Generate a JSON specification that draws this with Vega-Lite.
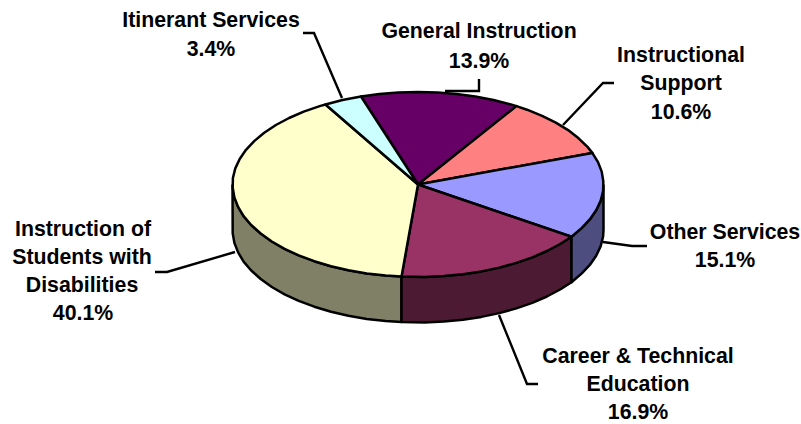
{"$schema":"https://vega.github.io/schema/vega-lite/v6.json","width":801,"height":424,"padding":0,"autosize":{"type":"fit","contains":"padding"},"background":"white","view":{"stroke":null},
"datasets":{
"walls":[
{"k":"Disabilities side","x":232.5,"y":184.5},{"k":"Disabilities side","x":232.7,"y":187.7},{"k":"Disabilities side","x":234.4,"y":197.4},{"k":"Disabilities side","x":238.1,"y":206.9},{"k":"Disabilities side","x":243.6,"y":216.1},{"k":"Disabilities side","x":251.2,"y":225},{"k":"Disabilities side","x":260.7,"y":233.5},{"k":"Disabilities side","x":271.8,"y":241.5},{"k":"Disabilities side","x":284.6,"y":248.8},{"k":"Disabilities side","x":298.7,"y":255.4},{"k":"Disabilities side","x":314.3,"y":261.2},{"k":"Disabilities side","x":331,"y":266.2},{"k":"Disabilities side","x":348.4,"y":270.2},{"k":"Disabilities side","x":366.8,"y":273.4},{"k":"Disabilities side","x":385.7,"y":275.6},{"k":"Disabilities side","x":401.5,"y":276.6},{"k":"Disabilities side","x":401.5,"y":322.1},{"k":"Disabilities side","x":385.7,"y":321.1},{"k":"Disabilities side","x":366.8,"y":318.9},{"k":"Disabilities side","x":348.4,"y":315.7},{"k":"Disabilities side","x":331,"y":311.7},{"k":"Disabilities side","x":314.3,"y":306.7},{"k":"Disabilities side","x":298.7,"y":300.9},{"k":"Disabilities side","x":284.6,"y":294.3},{"k":"Disabilities side","x":271.8,"y":287},{"k":"Disabilities side","x":260.7,"y":279},{"k":"Disabilities side","x":251.2,"y":270.5},{"k":"Disabilities side","x":243.6,"y":261.6},{"k":"Disabilities side","x":238.1,"y":252.4},{"k":"Disabilities side","x":234.4,"y":242.9},{"k":"Disabilities side","x":232.7,"y":233.2},{"k":"Disabilities side","x":232.5,"y":184.5},
{"k":"Career side","x":571.5,"y":236.8},{"k":"Career side","x":560.1,"y":244},{"k":"Career side","x":546.9,"y":251},{"k":"Career side","x":532.3,"y":257.4},{"k":"Career side","x":516.3,"y":262.9},{"k":"Career side","x":499.3,"y":267.6},{"k":"Career side","x":481.4,"y":271.4},{"k":"Career side","x":462.9,"y":274.2},{"k":"Career side","x":443.8,"y":276.1},{"k":"Career side","x":424.5,"y":276.9},{"k":"Career side","x":401.5,"y":276.6},{"k":"Career side","x":401.5,"y":322.1},{"k":"Career side","x":424.5,"y":322.4},{"k":"Career side","x":443.8,"y":321.6},{"k":"Career side","x":462.9,"y":319.7},{"k":"Career side","x":481.4,"y":316.9},{"k":"Career side","x":499.3,"y":313.1},{"k":"Career side","x":516.3,"y":308.4},{"k":"Career side","x":532.3,"y":302.9},{"k":"Career side","x":546.9,"y":296.5},{"k":"Career side","x":560.1,"y":289.5},{"k":"Career side","x":571.5,"y":282.3},{"k":"Career side","x":571.5,"y":236.8},
{"k":"Other side","x":603.5,"y":184.5},{"k":"Other side","x":603.1,"y":191},{"k":"Other side","x":600.7,"y":200.6},{"k":"Other side","x":596.3,"y":210},{"k":"Other side","x":590,"y":219.2},{"k":"Other side","x":581.8,"y":227.9},{"k":"Other side","x":571.5,"y":236.8},{"k":"Other side","x":571.5,"y":282.3},{"k":"Other side","x":581.8,"y":273.4},{"k":"Other side","x":590,"y":264.7},{"k":"Other side","x":596.3,"y":255.5},{"k":"Other side","x":600.7,"y":246.1},{"k":"Other side","x":603.1,"y":236.5},{"k":"Other side","x":603.5,"y":230},{"k":"Other side","x":603.5,"y":184.5}
],
"tops":[
{"k":"General Instruction","x":418,"y":184.5},{"k":"General Instruction","x":361,"y":96.5},{"k":"General Instruction","x":379.4,"y":94},{"k":"General Instruction","x":398.6,"y":92.5},{"k":"General Instruction","x":418,"y":92},{"k":"General Instruction","x":437.4,"y":92.5},{"k":"General Instruction","x":456.6,"y":94},{"k":"General Instruction","x":475.3,"y":96.5},{"k":"General Instruction","x":493.5,"y":100},{"k":"General Instruction","x":510.8,"y":104.4},{"k":"General Instruction","x":516.5,"y":106.1},{"k":"General Instruction","x":418,"y":184.5},
{"k":"Instructional Support","x":418,"y":184.5},{"k":"Instructional Support","x":516.5,"y":106.1},{"k":"Instructional Support","x":527,"y":109.7},{"k":"Instructional Support","x":542.1,"y":115.8},{"k":"Instructional Support","x":555.8,"y":122.6},{"k":"Instructional Support","x":568.1,"y":130.1},{"k":"Instructional Support","x":578.6,"y":138.3},{"k":"Instructional Support","x":587.5,"y":146.9},{"k":"Instructional Support","x":592.3,"y":152.9},{"k":"Instructional Support","x":418,"y":184.5},
{"k":"Other Services","x":418,"y":184.5},{"k":"Other Services","x":592.3,"y":152.9},{"k":"Other Services","x":598,"y":162.1},{"k":"Other Services","x":601.7,"y":171.6},{"k":"Other Services","x":603.3,"y":181.3},{"k":"Other Services","x":603.1,"y":191},{"k":"Other Services","x":600.7,"y":200.6},{"k":"Other Services","x":596.3,"y":210},{"k":"Other Services","x":590,"y":219.2},{"k":"Other Services","x":581.8,"y":227.9},{"k":"Other Services","x":571.5,"y":236.8},{"k":"Other Services","x":418,"y":184.5},
{"k":"Career & Technical Education","x":418,"y":184.5},{"k":"Career & Technical Education","x":571.5,"y":236.8},{"k":"Career & Technical Education","x":560.1,"y":244},{"k":"Career & Technical Education","x":546.9,"y":251},{"k":"Career & Technical Education","x":532.3,"y":257.4},{"k":"Career & Technical Education","x":516.3,"y":262.9},{"k":"Career & Technical Education","x":499.3,"y":267.6},{"k":"Career & Technical Education","x":481.4,"y":271.4},{"k":"Career & Technical Education","x":462.9,"y":274.2},{"k":"Career & Technical Education","x":443.8,"y":276.1},{"k":"Career & Technical Education","x":424.5,"y":276.9},{"k":"Career & Technical Education","x":401.5,"y":276.6},{"k":"Career & Technical Education","x":418,"y":184.5},
{"k":"Instruction of Students with Disabilities","x":418,"y":184.5},{"k":"Instruction of Students with Disabilities","x":401.5,"y":276.6},{"k":"Instruction of Students with Disabilities","x":385.7,"y":275.6},{"k":"Instruction of Students with Disabilities","x":366.8,"y":273.4},{"k":"Instruction of Students with Disabilities","x":348.4,"y":270.2},{"k":"Instruction of Students with Disabilities","x":331,"y":266.2},{"k":"Instruction of Students with Disabilities","x":314.3,"y":261.2},{"k":"Instruction of Students with Disabilities","x":298.7,"y":255.4},{"k":"Instruction of Students with Disabilities","x":284.6,"y":248.8},{"k":"Instruction of Students with Disabilities","x":271.8,"y":241.5},{"k":"Instruction of Students with Disabilities","x":260.7,"y":233.5},{"k":"Instruction of Students with Disabilities","x":251.2,"y":225},{"k":"Instruction of Students with Disabilities","x":243.6,"y":216.1},{"k":"Instruction of Students with Disabilities","x":238.1,"y":206.9},{"k":"Instruction of Students with Disabilities","x":234.4,"y":197.4},{"k":"Instruction of Students with Disabilities","x":232.7,"y":187.7},{"k":"Instruction of Students with Disabilities","x":232.9,"y":178},{"k":"Instruction of Students with Disabilities","x":235.3,"y":168.4},{"k":"Instruction of Students with Disabilities","x":239.7,"y":159},{"k":"Instruction of Students with Disabilities","x":246,"y":149.8},{"k":"Instruction of Students with Disabilities","x":254.2,"y":141.1},{"k":"Instruction of Students with Disabilities","x":264.2,"y":132.8},{"k":"Instruction of Students with Disabilities","x":275.9,"y":125},{"k":"Instruction of Students with Disabilities","x":289.1,"y":118},{"k":"Instruction of Students with Disabilities","x":303.7,"y":111.6},{"k":"Instruction of Students with Disabilities","x":319.7,"y":106.1},{"k":"Instruction of Students with Disabilities","x":325.5,"y":104.5},{"k":"Instruction of Students with Disabilities","x":418,"y":184.5},
{"k":"Itinerant Services","x":418,"y":184.5},{"k":"Itinerant Services","x":325.5,"y":104.5},{"k":"Itinerant Services","x":342.5,"y":100},{"k":"Itinerant Services","x":361,"y":96.5},{"k":"Itinerant Services","x":418,"y":184.5}
],
"leaders":[
{"k":"Itinerant Services","x":303,"y":33},{"k":"Itinerant Services","x":314,"y":33},{"k":"Itinerant Services","x":342,"y":98},
{"k":"General Instruction","x":479,"y":79},{"k":"General Instruction","x":479,"y":91},{"k":"General Instruction","x":445,"y":91},
{"k":"Instructional Support","x":614,"y":83},{"k":"Instructional Support","x":603,"y":83},{"k":"Instructional Support","x":563,"y":125},
{"k":"Other Services","x":647,"y":246},{"k":"Other Services","x":632,"y":246},{"k":"Other Services","x":603,"y":242},
{"k":"Career & Technical Education","x":538,"y":384},{"k":"Career & Technical Education","x":527,"y":384},{"k":"Career & Technical Education","x":499,"y":315},
{"k":"Instruction of Students with Disabilities","x":155,"y":272},{"k":"Instruction of Students with Disabilities","x":167,"y":272},{"k":"Instruction of Students with Disabilities","x":235,"y":252}
],
"labels":[
{"t":"Itinerant Services","x":211,"y":20},{"t":"3.4%","x":211,"y":49},
{"t":"General Instruction","x":479,"y":31},{"t":"13.9%","x":479,"y":61},
{"t":"Instructional","x":681,"y":55},{"t":"Support","x":681,"y":83},{"t":"10.6%","x":681,"y":112},
{"t":"Other Services","x":725,"y":232},{"t":"15.1%","x":725,"y":260},
{"t":"Career & Technical","x":638,"y":356},{"t":"Education","x":638,"y":384},{"t":"16.9%","x":638,"y":412},
{"t":"Instruction of","x":83,"y":229},{"t":"Students with","x":82,"y":257},{"t":"Disabilities","x":82,"y":285},{"t":"40.1%","x":83,"y":313}
]},
"encoding":{
"x":{"field":"x","type":"quantitative","axis":null,"scale":{"domain":[0,801],"nice":false,"zero":false}},
"y":{"field":"y","type":"quantitative","axis":null,"scale":{"domain":[0,424],"nice":false,"zero":false,"reverse":true}}},
"layer":[
{"data":{"name":"walls"},"mark":{"type":"line","filled":true,"stroke":"black","strokeWidth":2.5,"strokeJoin":"round","clip":false},
"encoding":{"order":{"value":null},"detail":{"field":"k"},"fill":{"field":"k","type":"nominal","legend":null,"scale":{"domain":["Disabilities side","Career side","Other side"],"range":["#808066","#4D1A33","#4D4D80"]}}}},
{"data":{"name":"tops"},"mark":{"type":"line","filled":true,"stroke":"black","strokeWidth":2.5,"strokeJoin":"round"},
"encoding":{"order":{"value":null},"detail":{"field":"k"},"fill":{"field":"k","type":"nominal","legend":null,"scale":{"domain":["General Instruction","Instructional Support","Other Services","Career & Technical Education","Instruction of Students with Disabilities","Itinerant Services"],"range":["#660066","#FF8080","#9999FF","#993366","#FFFFCC","#CCFFFF"]}}}},
{"data":{"name":"leaders"},"mark":{"type":"line","color":"black","strokeWidth":2.4,"strokeJoin":"miter"},
"encoding":{"order":{"value":null},"detail":{"field":"k"}}},
{"data":{"name":"labels"},"mark":{"type":"text","font":"Liberation Sans","fontWeight":"bold","fontSize":21.3,"color":"black","align":"center","baseline":"middle","dy":1},
"encoding":{"text":{"field":"t"}}}
],
"resolve":{"scale":{"fill":"independent"}}}
